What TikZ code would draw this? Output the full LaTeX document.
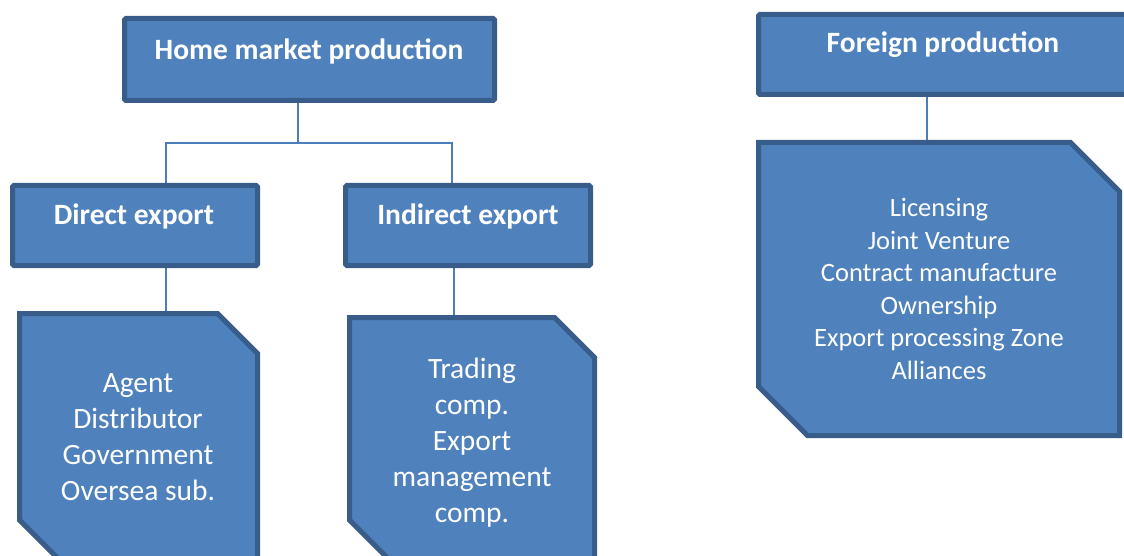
\documentclass[tikz,border=0pt]{standalone}
\usepackage{fontspec}
\setmainfont{Carlito}
\definecolor{boxfill}{HTML}{4F81BD}
\definecolor{boxline}{HTML}{385D8A}
\definecolor{connline}{HTML}{4A7EBB}
\pgfdeclarelayer{background}
\pgfsetlayers{background,main}
\tikzset{
  headbox/.style={rectangle, draw=boxline, fill=boxfill, line width=5pt, rounded corners=1.5pt, inner sep=0pt},
  snipbox/.style={draw=boxline, fill=boxfill, line width=5pt, line join=miter},
  headtext/.style={text=white, font=\fontsize{29.5}{36}\selectfont\bfseries, inner sep=0pt, anchor=base},
  bodytext/.style={text=white, font=\fontsize{29.5}{36}\selectfont, inner sep=0pt, anchor=base},
  smallbody/.style={text=white, font=\fontsize{26.5}{32.4}\selectfont, inner sep=0pt, anchor=base},
  conn/.style={draw=connline, line width=1.5pt},
}
\begin{document}
\begin{tikzpicture}[x=1pt,y=-1pt]
\useasboundingbox (0,0) rectangle (1124,556);
\clip (0,0) rectangle (1124,556);

% heading boxes
\node[headbox, minimum width=370pt, minimum height=82pt] (home) at (309.5,59.5) {};
\node[headbox, minimum width=245pt, minimum height=80pt] (direct) at (135,225.5) {};
\node[headbox, minimum width=245pt, minimum height=80pt] (indirect) at (468,225.5) {};
\node[headbox, minimum width=369pt, minimum height=80pt] (foreign) at (943,54.5) {};

% connector coordinates
\coordinate (hub) at (298,143);
\coordinate (hA) at (166,143);
\coordinate (hB) at (452,143);
\coordinate (dtop) at (166,313.5);
\coordinate (itop) at (454,317.5);
\coordinate (ftop) at (927,142.5);

% connectors (under the boxes)
\begin{pgfonlayer}{background}
\draw[conn] (home.south -| hub) -- (hub);
\draw[conn] (direct.north -| hA) -- (hA) -- (hB) -- (indirect.north -| hB);
\draw[conn] (direct.south -| dtop) -- (dtop);
\draw[conn] (indirect.south -| itop) -- (itop);
\draw[conn] (foreign.south -| ftop) -- (ftop);
\end{pgfonlayer}

% snipped boxes
\draw[snipbox] (19.5,313.5) -- (217.5,313.5) -- (257.5,353.5) -- (257.5,562) -- (61.5,562) -- (19.5,520) -- cycle;
\draw[snipbox] (349.5,317.5) -- (554.5,317.5) -- (594.5,357.5) -- (594.5,562) -- (391.5,562) -- (349.5,520) -- cycle;
\draw[snipbox] (758.5,142.5) -- (1070.5,142.5) -- (1119.5,191.5) -- (1119.5,435.5) -- (807.5,435.5) -- (758.5,386.5) -- cycle;

% texts
\node[headtext] (homet) at (309,60) {Home market production};
\node[headtext] (directt) at (134,224) {Direct export};
\node[headtext] (indirectt) at (468,224) {Indirect export};
\node[headtext] (foreignt) at (943,53) {Foreign production};

\node[bodytext] (dlist) at (138,392) {\begin{tabular}[t]{@{}c@{}}Agent\\Distributor\\Government\\Oversea sub.\end{tabular}};
\node[bodytext] (ilist) at (472,378) {\begin{tabular}[t]{@{}c@{}}Trading\\comp.\\Export\\management\\comp.\end{tabular}};
\node[smallbody] (flist) at (939,217) {\begin{tabular}[t]{@{}c@{}}Licensing\\Joint Venture\\Contract manufacture\\Ownership\\Export processing Zone\\Alliances\end{tabular}};
\end{tikzpicture}
\end{document}
